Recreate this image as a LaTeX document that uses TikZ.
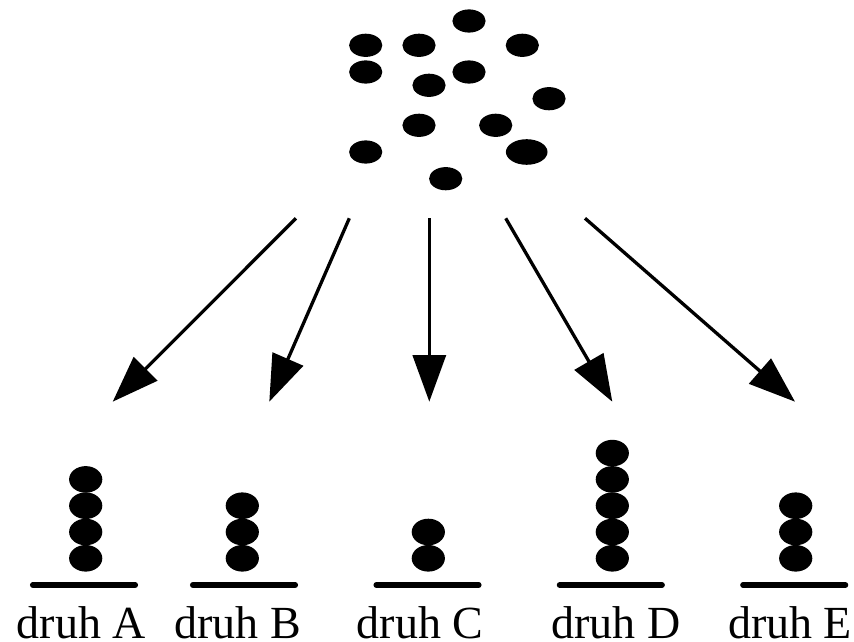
\documentclass[tikz,border=0pt]{standalone}
\usepackage{fontspec}
\setmainfont{Liberation Serif}
\usetikzlibrary{arrows.meta,shapes.geometric}

\begin{document}
\begin{tikzpicture}[x=0.5pt, y=-0.5pt,
	zrno/.style={ellipse, fill=black, inner sep=0pt, minimum width=16.6pt, minimum height=11.6pt},
	zrnostack/.style={zrno, minimum height=13.3pt},
	sipka/.style={line width=1.65pt, -{Triangle[length=23.3pt, width=16.5pt]}},
	podlozka/.style={line width=2.85pt, line cap=round},
	druhtext/.style={anchor=base, inner sep=0pt, font=\fontsize{23pt}{28pt}\selectfont}] % 1 px = 0.5 pt

	\useasboundingbox (0,0) rectangle (854,641);

	% zrna nahore
	\foreach \x/\y [count=\i] in {469/21, 365.7/45.3, 419/45.3, 522.3/45.3, 365.7/72, 469/72,
		429/85.3, 549/98.7, 419/125.3, 495.7/125.3, 365.7/152, 445.7/178.7}
	\node[zrno] (z\i) at (\x,\y) {};
	\node[zrno, minimum width=20.8pt, minimum height=12.8pt] (z13) at (526.7,152) {};

	% sipky
	\coordinate (sA) at (296,218.3);   \coordinate (eA) at (112.7,401.7);
	\coordinate (sB) at (349.3,218.3); \coordinate (eB) at (269.3,401.7);
	\coordinate (sC) at (429.3,218.3); \coordinate (eC) at (429.3,401.7);
	\coordinate (sD) at (505.7,218.3); \coordinate (eD) at (612.3,401.7);
	\coordinate (sE) at (585,218.3);   \coordinate (eE) at (795,401.7);
	\foreach \d in {A,B,C,D,E}
	\draw[sipka] (s\d) -- (e\d);

	% sloupce
	\foreach \x/\n/\d/\b/\t in {85.7/4/A/84/81.3, 242.3/3/B/244/237.5, 428.3/2/C/427.5/420,
		612.3/5/D/610.8/616, 795.7/3/E/794.2/790} {
		\foreach \i in {1,...,\n}
		\node[zrnostack] (\d\i) at ({\x},{558.3-26.3*(\i-1)}) {};
		\coordinate (pl\d) at ({\b-51.2},585);
		\coordinate (pr\d) at ({\b+51.2},585);
		\draw[podlozka] (pl\d) -- (pr\d);
		\node[druhtext] (t\d) at (\t,638) {druh \d};
	}
\end{tikzpicture}
\end{document}
